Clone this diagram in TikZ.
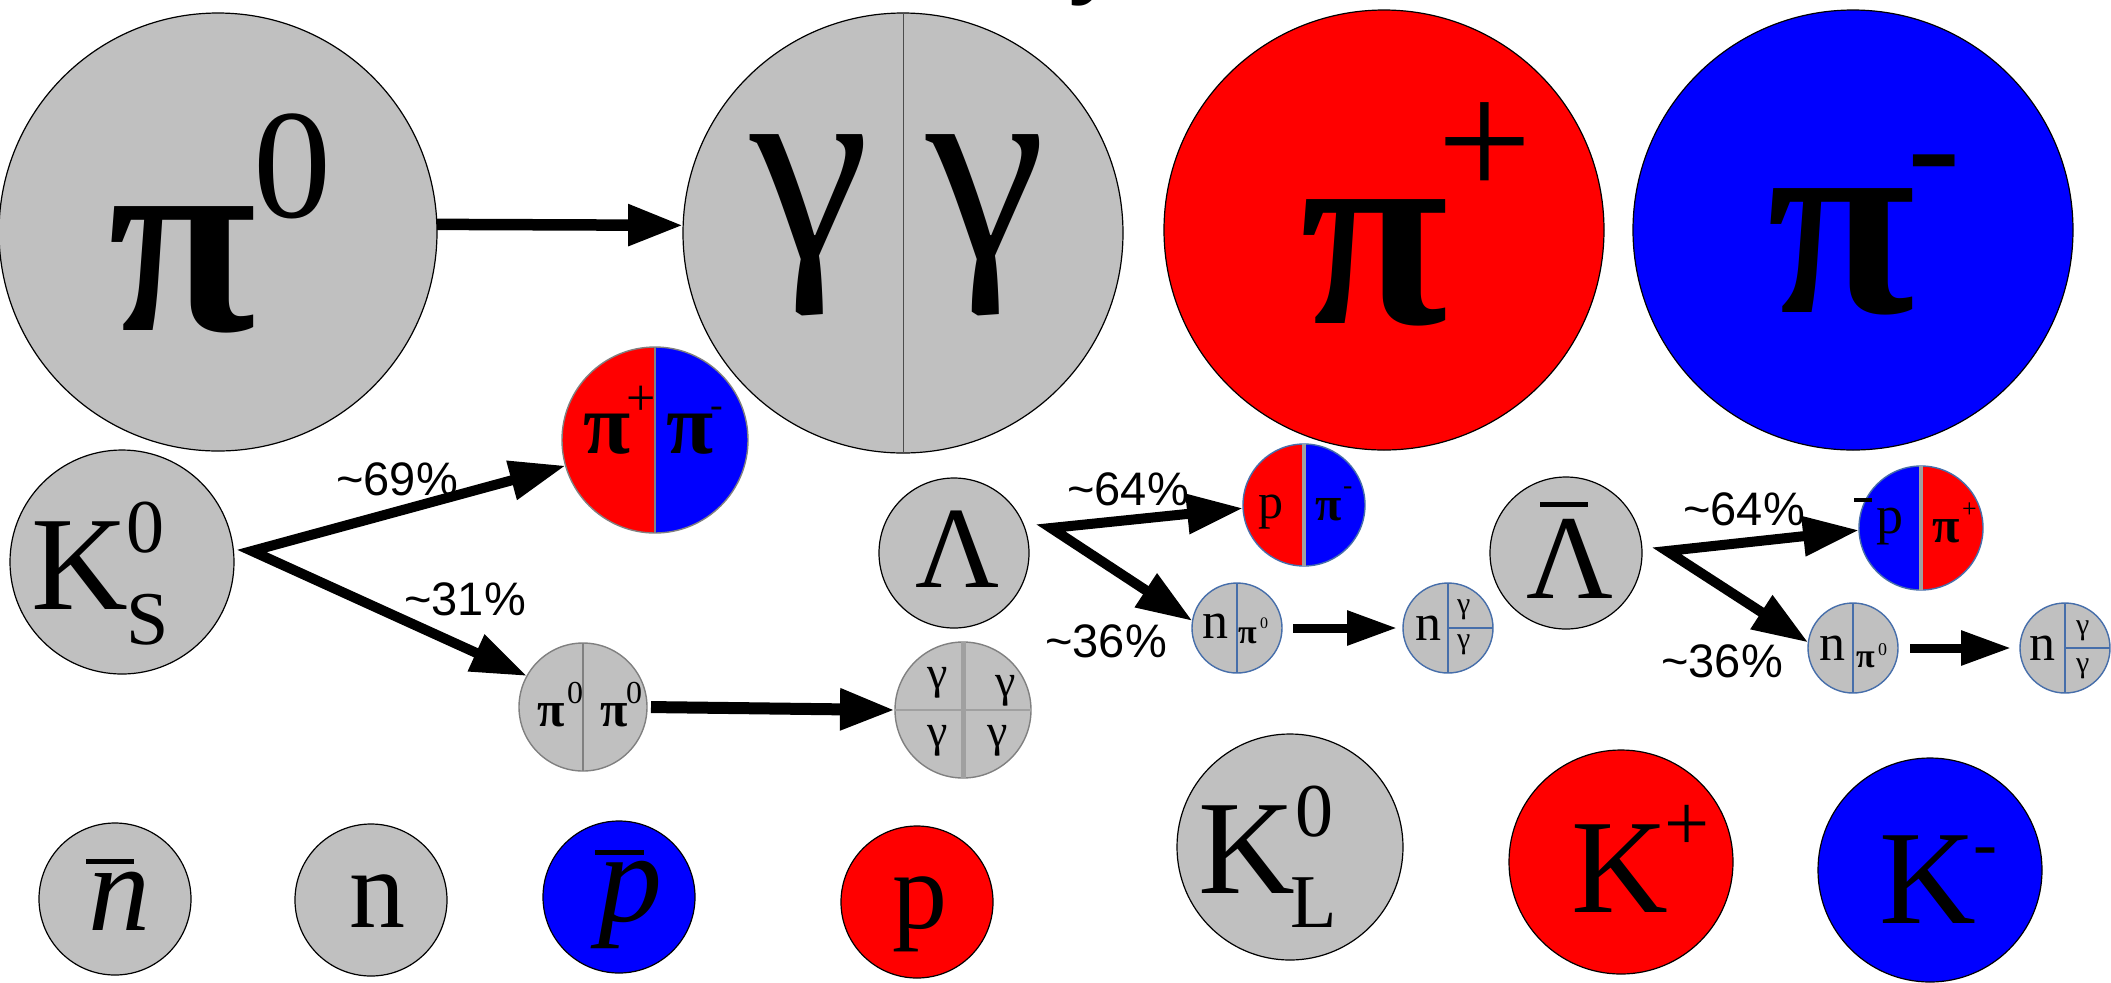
\documentclass[tikz,border=0pt]{standalone}
\usepackage{fontspec}
\setmainfont{Liberation Serif}
\newfontfamily\lsans{Liberation Sans}
\usetikzlibrary{arrows.meta}
\newcommand\myfs[1]{\fontsize{#1}{#1}\selectfont}
\definecolor{pgray}{RGB}{192,192,192}
\definecolor{sblue}{RGB}{70,110,170}
\definecolor{dgray}{RGB}{128,128,128}
\definecolor{lgray}{RGB}{160,160,160}
\definecolor{pred}{RGB}{255,0,0}
\definecolor{pblue}{RGB}{0,0,255}
\begin{document}
\begin{tikzpicture}[x=0.5pt,y=-0.5pt,
  ball/.style={circle, draw=black, line width=0.6pt, fill=pgray, inner sep=0pt, outer sep=0pt, minimum size=#1},
  redball/.style={ball=#1, fill=pred},
  blueball/.style={ball=#1, fill=pblue},
  smallball/.style={ball=#1, draw=sblue, line width=0.7pt},
  grayball/.style={ball=#1, draw=dgray, line width=0.7pt},
  halves/.style 2 args={path picture={
     \fill[#1] (path picture bounding box.south west) rectangle (path picture bounding box.north);
     \fill[#2] (path picture bounding box.south) rectangle (path picture bounding box.north east);}},
  sym/.style={anchor=base west, inner sep=0pt, outer sep=0pt, font=\myfs{#1}},
  pisym/.style={anchor=base west, inner sep=0pt, outer sep=0pt, font=\bfseries\myfs{#1}},
  pct/.style={anchor=base west, inner sep=0pt, font=\lsans\myfs{23.5}},
  bigarrow/.style={line width=5.75pt, -{Triangle[length=27.5pt,width=19.5pt]}},
  forkarrow/.style={line width=5pt, {Triangle[length=28pt,width=19pt]}-{Triangle[length=28pt,width=19pt]}},
  smallarrow/.style={line width=4.5pt, -{Triangle[length=25pt,width=16.5pt]}},
  bar/.style={line width=2.5pt}
]
\useasboundingbox (0,0) rectangle (2111,982);
\fill[white] (0,0) rectangle (2111,982);
\clip (0,0) rectangle (2111,982);

% title (cut off at the top)
\node[anchor=base west, inner sep=0pt, font=\lsans\myfs{57}] (title) at (289,-18) {How does it hit your detector?};

% big circles
\node[ball=219pt] (pizero) at (218,232) {};
\node[ball=220pt] (gg) at (903,233) {};
\draw[black!70, line width=0.5pt] (gg.north) -- (gg.south);
\node[redball=220pt] (pip) at (1384,230) {};
\node[blueball=220pt] (pim) at (1853,230) {};

% K0S branch
\node[ball=112pt] (ks) at (122,562) {};
\node[grayball=93pt, halves={pred}{pblue}] (pp) at (655,440) {};
\draw[dgray, line width=0.6pt] (pp.north) -- (pp.south);
\node[grayball=64pt] (pzz) at (583,707) {};
\draw[dgray, line width=0.8pt] (pzz.north) -- (pzz.south);
\node[grayball=68pt] (gggg) at (963,710) {};
\draw[lgray, line width=2.5pt] (gggg.north) -- (gggg.south);
\draw[lgray, line width=1pt] (gggg.west) -- (gggg.east);

% Lambda branch
\node[ball=75pt] (lam) at (954,553) {};
\node[smallball=61pt, halves={pred}{pblue}] (ppm) at (1304,505) {};
\draw[lgray, line width=2pt] (ppm.north) -- (ppm.south);
\node[smallball=45pt] (npz) at (1237,628) {};
\draw[sblue, line width=0.7pt] (npz.north) -- (npz.south);
\node[smallball=45pt] (ngg) at (1448,628) {};
\draw[sblue, line width=0.7pt] (ngg.north) -- (ngg.south) (ngg.center) -- (ngg.east);

% anti-Lambda branch
\node[ball=76pt] (lamb) at (1566,553) {};
\node[smallball=62pt, halves={pblue}{pred}] (pbp) at (1921,528) {};
\draw[lgray, line width=2pt] (pbp.north) -- (pbp.south);
\node[smallball=45pt] (npzb) at (1853,648) {};
\draw[sblue, line width=0.7pt] (npzb.north) -- (npzb.south);
\node[smallball=45pt] (nggb) at (2065,648) {};
\draw[sblue, line width=0.7pt] (nggb.north) -- (nggb.south) (nggb.center) -- (nggb.east);

% bottom row
\node[ball=76pt] (nbar) at (115,899) {};
\node[ball=76pt] (neu) at (371,900) {};
\node[blueball=76pt] (pbar) at (619,897) {};
\node[redball=76pt] (prot) at (917,902) {};
\node[ball=113pt] (kl) at (1290,847) {};
\node[redball=112pt] (kp) at (1621,862) {};
\node[blueball=112pt] (km) at (1930,870) {};

% ---- symbols ----
\node[pisym=135] (t-pi0) at (108,330) {π};
\node[sym=78] (t-pi0s) at (253,217) {0};
\node[sym=135] (t-g1) at (750,258) {γ};
\node[sym=135] (t-g2) at (926,258) {γ};
\node[pisym=135] (t-pip) at (1300,323) {π};
\node[sym=84] (t-pips) at (1437,197) {+};
\node[pisym=135] (t-pim) at (1767,312) {π};
\node[sym=80] (t-pims) at (1907,198) {-};

\node[sym=67] (t-ks) at (32,609) {K};
\node[sym=38] (t-ks0) at (126,552) {0};
\node[sym=38] (t-kss) at (126,644) {S};

\node[pisym=43] (t-pp1) at (583,453) {π};
\node[sym=26] (t-pp1s) at (626,415) {+};
\node[pisym=43] (t-pp2) at (666,453) {π};
\node[sym=19] (t-pp2s) at (710,417) {-};

\node[pisym=25] (t-pz1) at (537,726) {π};
\node[sym=16] (t-pz1s) at (567,703) {0};
\node[pisym=25] (t-pz2) at (600,726) {π};
\node[sym=16] (t-pz2s) at (626,703) {0};

\node[sym=23] (t-q1) at (927,688) {γ};
\node[sym=23] (t-q2) at (995,696) {γ};
\node[sym=23] (t-q3) at (927,746) {γ};
\node[sym=23] (t-q4) at (987,746) {γ};

\node[sym=58] (t-lam) at (915,587) {Λ};
\node[sym=25] (t-p1) at (1258,518) {p};
\node[pisym=24] (t-pm1) at (1315,520) {π};
\node[sym=14] (t-pm1s) at (1343,494) {-};
\node[sym=26] (t-n1) at (1202,638) {n};
\node[pisym=17] (t-n1pi) at (1238,643) {π};
\node[sym=8] (t-n1pis) at (1260,628) {0};
\node[sym=26] (t-n2) at (1415,640) {n};
\node[sym=15] (t-n2g1) at (1457,613) {γ};
\node[sym=15] (t-n2g2) at (1457,648) {γ};

\node[sym=60] (t-lamb) at (1526,598) {Λ};
\draw[bar] (1540,504) -- (1588,504);
\draw[line width=2pt] (1854,500) -- (1872,500);
\node[sym=27] (t-pb) at (1876,533) {p};
\node[pisym=25] (t-pp3) at (1932,542) {π};
\node[sym=13] (t-pp3s) at (1962,517) {+};
\node[sym=26] (t-n3) at (1819,660) {n};
\node[pisym=17] (t-n3pi) at (1856,667) {π};
\node[sym=9] (t-n3pis) at (1878,655) {0};
\node[sym=26] (t-n4) at (2029,660) {n};
\node[sym=15] (t-n4g1) at (2076,634) {γ};
\node[sym=15] (t-n4g2) at (2076,672) {γ};

\node[sym=62] (t-nbar) at (88,930) {\itshape n};
\draw[bar] (86,861) -- (134,861);
\node[sym=56] (t-n) at (349,927) {n};
\node[sym=64] (t-pbar) at (598,921) {\itshape p};
\draw[bar] (595,852) -- (644,852);
\node[sym=55] (t-p) at (892,928) {p};

\node[sym=67] (t-kl) at (1198,893) {K};
\node[sym=38] (t-kl0) at (1295,836) {0};
\node[sym=38] (t-kll) at (1290,927) {L};
\node[sym=67] (t-kp) at (1571,912) {K};
\node[sym=40] (t-kps) at (1664,850) {+};
\node[sym=67] (t-km) at (1879,923) {K};
\node[sym=36] (t-kms) at (1973,867) {-};

% percentages
\node[pct] (l69) at (336,495) {\textasciitilde 69\%};
\node[pct] (l31) at (404,615) {\textasciitilde 31\%};
\node[pct] (l64a) at (1067,505) {\textasciitilde 64\%};
\node[pct] (l36a) at (1045,657) {\textasciitilde 36\%};
\node[pct] (l64b) at (1683,525) {\textasciitilde 64\%};
\node[pct] (l36b) at (1661,677) {\textasciitilde 36\%};

% ---- arrows ----
\coordinate (ksv) at (252,551);
\coordinate (lv) at (1051,528);
\coordinate (lbv) at (1667,551);
\draw[bigarrow] (pizero.2) -- (gg.178);
\draw[forkarrow] (pp.196) -- (ksv) -- (pzz.151);
\draw[bigarrow, line width=6pt, shorten <=2pt] (pzz.east) -- (gggg.west);
\draw[forkarrow] (ppm.183) -- (lv) -- (npz.171);
\draw[smallarrow, shorten <=5.5pt, shorten >=3pt] (npz.east) -- (ngg.west);
\draw[forkarrow] (pbp.182) -- (lbv) -- (npzb.173);
\draw[smallarrow, shorten <=6pt, shorten >=4.5pt] (npzb.east) -- (nggb.west);
\end{tikzpicture}
\end{document}
